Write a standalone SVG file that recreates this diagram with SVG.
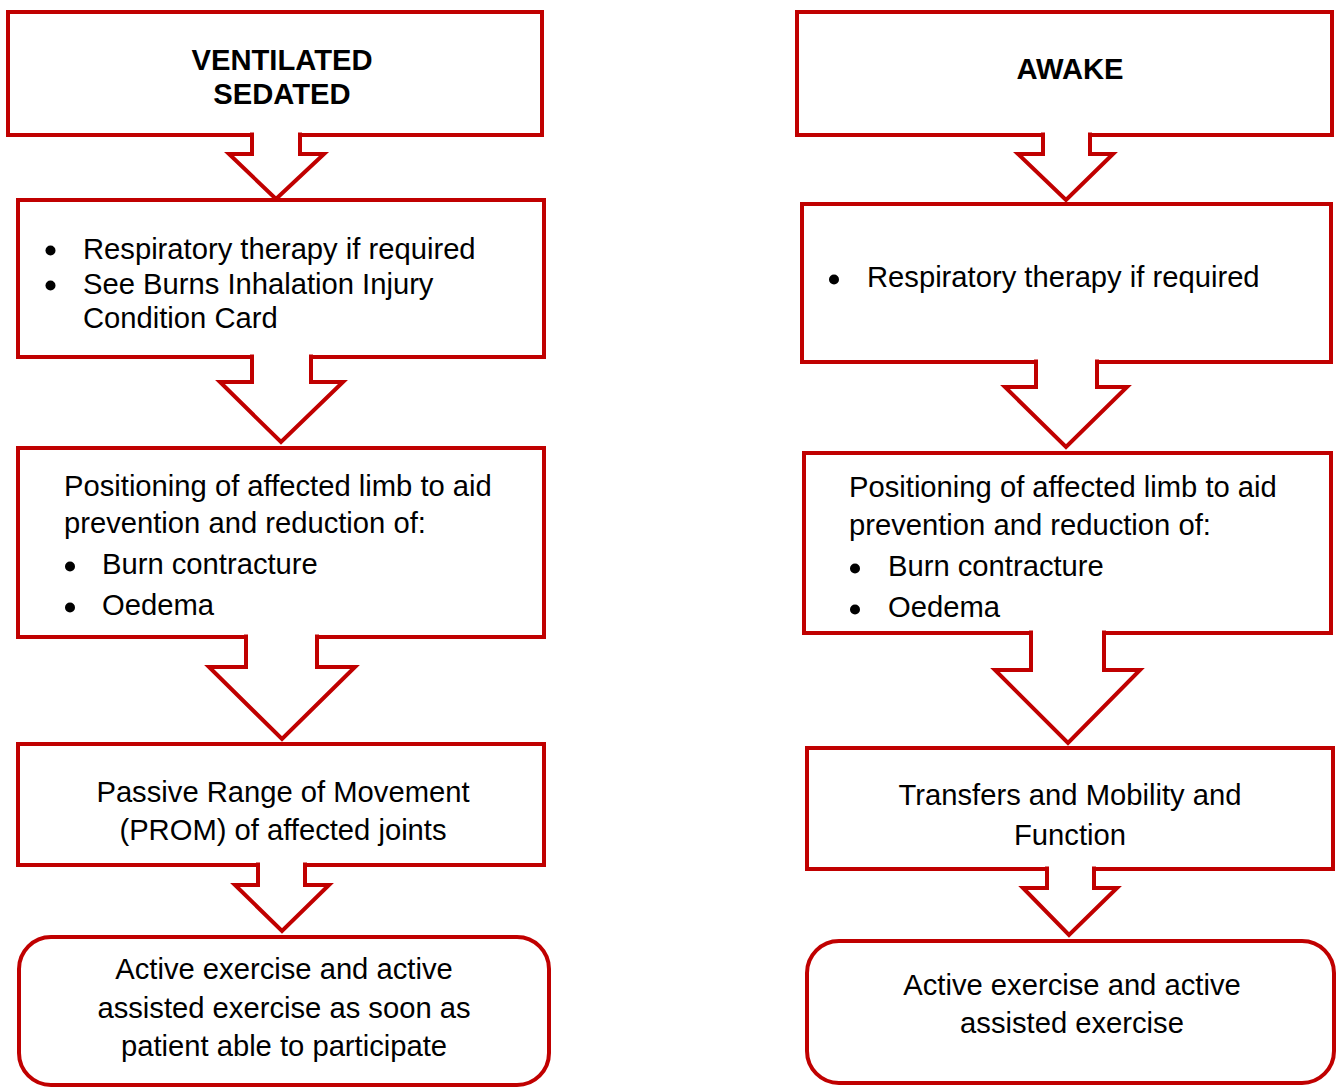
<svg xmlns="http://www.w3.org/2000/svg" width="1336" height="1088" viewBox="0 0 1336 1088">
<style>
.box{fill:#fff;stroke:#C00000;stroke-width:4;stroke-linejoin:miter}
.arr{fill:#fff;stroke:#C00000;stroke-width:4;stroke-linejoin:miter;stroke-linecap:butt}
.t{font-family:"Liberation Sans",Arial,sans-serif;font-size:29.2px;fill:#000}
.dot{fill:#000}
.b{font-weight:bold}
.c{text-anchor:middle}
</style>
<rect width="1336" height="1088" fill="#fff"/>
<g id="nodes">
<g id="l1"><rect class="box" x="8" y="12" width="534" height="123"/>
<text class="t b c" x="282" y="70">VENTILATED</text><text class="t b c" x="282" y="104">SEDATED</text></g>
<g id="l2"><rect class="box" x="18" y="200" width="526" height="157"/>
<circle class="dot" cx="50.5" cy="250.5" r="5"/><text class="t" x="83" y="259">Respiratory therapy if required</text>
<circle class="dot" cx="50.5" cy="285.5" r="5"/><text class="t" x="83" y="294">See Burns Inhalation Injury</text>
<text class="t" x="83" y="328">Condition Card</text></g>
<g id="l3"><rect class="box" x="18" y="448" width="526" height="189"/>
<text class="t" x="64" y="496">Positioning of affected limb to aid</text>
<text class="t" x="64" y="533">prevention and reduction of:</text>
<circle class="dot" cx="70" cy="566.5" r="5"/><text class="t" x="102" y="574">Burn contracture</text>
<circle class="dot" cx="70" cy="607.5" r="5"/><text class="t" x="102" y="615">Oedema</text></g>
<g id="l4"><rect class="box" x="18" y="744" width="526" height="121"/>
<text class="t c" x="283" y="802">Passive Range of Movement</text>
<text class="t c" x="283" y="840">(PROM) of affected joints</text></g>
<g id="l5"><rect class="box" x="19" y="937" width="530" height="148" rx="32" ry="32"/>
<text class="t c" x="284" y="979">Active exercise and active</text>
<text class="t c" x="284" y="1018">assisted exercise as soon as</text>
<text class="t c" x="284" y="1056">patient able to participate</text></g>
<g id="r1"><rect class="box" x="797" y="12" width="535" height="123"/>
<text class="t b c" x="1070" y="79">AWAKE</text></g>
<g id="r2"><rect class="box" x="802" y="204" width="529" height="158"/>
<circle class="dot" cx="834" cy="279.5" r="5"/><text class="t" x="867" y="287">Respiratory therapy if required</text></g>
<g id="r3"><rect class="box" x="804" y="453" width="527" height="180"/>
<text class="t" x="849" y="497">Positioning of affected limb to aid</text>
<text class="t" x="849" y="535">prevention and reduction of:</text>
<circle class="dot" cx="855" cy="568.5" r="5"/><text class="t" x="888" y="576">Burn contracture</text>
<circle class="dot" cx="855" cy="609.5" r="5"/><text class="t" x="888" y="617">Oedema</text></g>
<g id="r4"><rect class="box" x="807" y="748" width="526" height="121"/>
<text class="t c" x="1070" y="805">Transfers and Mobility and</text>
<text class="t c" x="1070" y="845">Function</text></g>
<g id="r5"><rect class="box" x="807" y="941" width="527" height="142" rx="32" ry="32"/>
<text class="t c" x="1072" y="995">Active exercise and active</text>
<text class="t c" x="1072" y="1033">assisted exercise</text></g>
</g>
<g id="connectors">
<path class="arr" d="M252,132.5 V154 H229 L276,199 L324,154 H300 V132.5"/>
<path class="arr" d="M252,354.5 V382 H220 L281,442 L343,382 H311 V354.5"/>
<path class="arr" d="M246,634.5 V667 H209 L282,739 L355,667 H317 V634.5"/>
<path class="arr" d="M258,862.5 V885 H235 L282,931 L329,885 H305 V862.5"/>
<path class="arr" d="M1043,132.5 V154 H1018 L1066,200 L1113,154 H1090 V132.5"/>
<path class="arr" d="M1036,359.5 V387 H1005 L1066,447 L1127,387 H1097 V359.5"/>
<path class="arr" d="M1031,630.5 V670 H995 L1068,743 L1140,670 H1104 V630.5"/>
<path class="arr" d="M1047,866.5 V888 H1023 L1069,935 L1117,888 H1094 V866.5"/>
</g>
</svg>
